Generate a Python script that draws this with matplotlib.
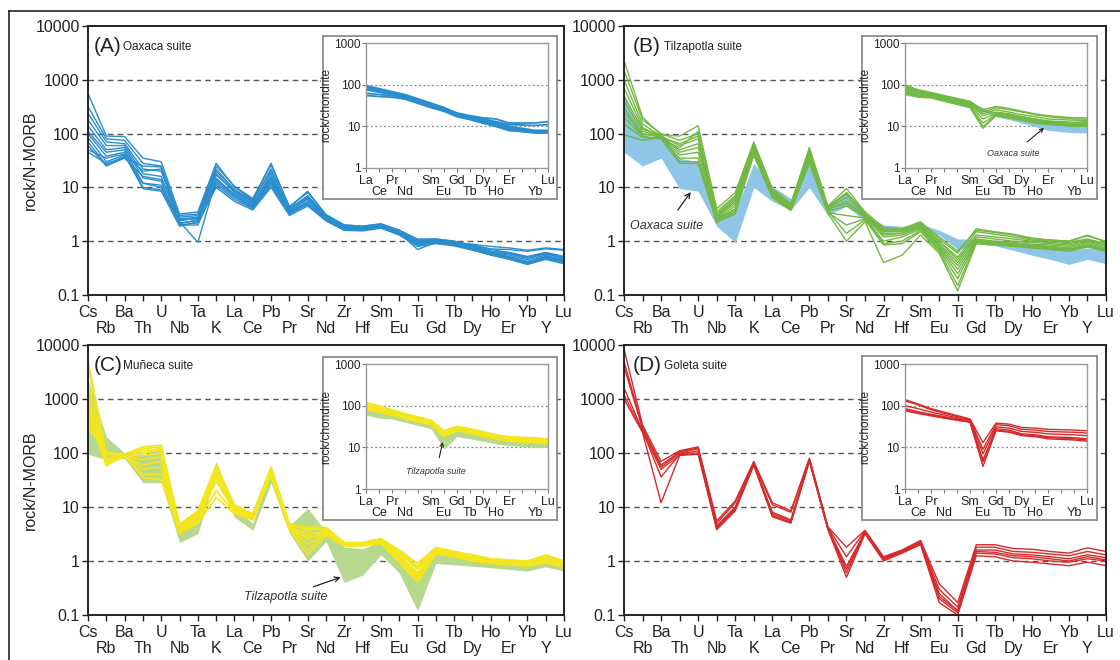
import numpy as np
import matplotlib.pyplot as plt
from matplotlib.lines import Line2D
from matplotlib.ticker import NullLocator

plt.rcParams['font.family'] = ['Liberation Sans', 'DejaVu Sans']

W, H = 1120, 660

# element order of the N-MORB spider diagram and of the REE diagram
elements = ['Cs', 'Rb', 'Ba', 'Th', 'U', 'Nb', 'Ta', 'K', 'La', 'Ce', 'Pb', 'Pr', 'Sr', 'Nd',
            'Zr', 'Hf', 'Sm', 'Eu', 'Ti', 'Gd', 'Tb', 'Dy', 'Ho', 'Er', 'Yb', 'Y', 'Lu']
ree_axis = ['La', 'Ce', 'Pr', 'Nd', 'Pm', 'Sm', 'Eu', 'Gd', 'Tb', 'Dy', 'Ho', 'Er', 'Tm', 'Yb', 'Lu']
ree = ['La', 'Ce', 'Pr', 'Nd', 'Sm', 'Eu', 'Gd', 'Tb', 'Dy', 'Ho', 'Er', 'Yb', 'Lu']

# (A) Oaxaca suite, rock/N-MORB
oaxaca_morb = [
    [560, 90, 88, 35, 30, 3.2, 3.5, 28, 10, 6.0, 28, 4.3, 8.5, 3.1, 2.0, 1.9, 2.1, 1.6, 1.1, 1.1, 1.0, 0.85, 0.72, 0.7, 0.65, 0.72, 0.68],
    [320, 80, 75, 28, 25, 2.8, 3.0, 22, 9, 5.5, 22, 4.0, 7.0, 2.9, 1.9, 1.8, 2.0, 1.5, 1.0, 1.05, 0.95, 0.8, 0.65, 0.6, 0.5, 0.6, 0.5],
    [240, 70, 65, 22, 20, 2.5, 2.6, 18, 8, 5.0, 18, 3.7, 6.0, 2.7, 1.8, 1.7, 1.9, 1.45, 0.95, 1.0, 0.9, 0.75, 0.62, 0.55, 0.45, 0.55, 0.45],
    [180, 60, 60, 18, 16, 2.2, 2.4, 15, 7, 4.5, 14, 3.5, 5.5, 2.6, 1.7, 1.7, 1.85, 1.4, 0.9, 0.95, 0.88, 0.72, 0.6, 0.52, 0.42, 0.52, 0.44],
    [140, 50, 55, 15, 13, 2.0, 2.2, 12, 6.5, 4.2, 12, 3.3, 5.0, 2.5, 1.6, 1.6, 1.8, 1.35, 0.85, 0.95, 0.85, 0.7, 0.58, 0.5, 0.4, 0.5, 0.42],
    [110, 45, 50, 12, 11, 2.0, 2.0, 11, 6, 4.0, 11, 3.2, 4.8, 2.4, 1.6, 1.55, 1.75, 1.3, 0.8, 0.9, 0.82, 0.68, 0.56, 0.48, 0.38, 0.48, 0.4],
    [100, 38, 45, 10, 9, 2.3, 0.95, 14, 7.5, 4.8, 16, 3.6, 6.5, 2.8, 1.8, 1.75, 1.9, 1.45, 0.7, 0.95, 0.9, 0.72, 0.6, 0.5, 0.4, 0.5, 0.42],
    [85, 30, 40, 9.5, 8.5, 1.9, 2.3, 10, 5.5, 3.8, 10, 3.0, 4.5, 2.4, 1.6, 1.6, 1.8, 1.35, 0.85, 0.95, 0.85, 0.7, 0.55, 0.46, 0.37, 0.46, 0.38],
    [70, 26, 38, 12, 10, 2.6, 2.8, 20, 9, 5.8, 20, 4.1, 6.8, 3.0, 1.9, 1.85, 2.0, 1.55, 1.0, 1.05, 0.95, 0.78, 0.65, 0.58, 0.48, 0.58, 0.48],
    [60, 25, 35, 16, 14, 3.0, 3.2, 25, 10.5, 6.2, 26, 4.4, 8.0, 3.1, 2.0, 1.9, 2.1, 1.6, 1.05, 1.1, 1.0, 0.82, 0.7, 0.62, 0.52, 0.62, 0.52],
    [50, 35, 42, 20, 22, 2.4, 2.7, 17, 8.5, 5.3, 15, 3.8, 6.2, 2.8, 1.8, 1.75, 1.95, 1.5, 0.95, 1.0, 0.92, 0.88, 0.8, 0.75, 0.68, 0.75, 0.7],
    [45, 28, 36, 25, 24, 2.1, 2.5, 13, 7, 4.4, 13, 3.4, 5.2, 2.5, 1.7, 1.65, 1.85, 1.4, 0.9, 0.95, 0.85, 0.72, 0.6, 0.5, 0.4, 0.52, 0.45],
]
oaxaca_chon = [
    [95, 80, 68, 58, 36, 28, 20, 17, 15, 12, 10, 8, 8],
    [90, 75, 64, 55, 34, 27, 19, 16, 14, 11.5, 9.5, 7.5, 7.5],
    [85, 72, 62, 53, 33, 26, 19, 16, 13, 11, 9, 7.5, 7.2],
    [80, 70, 60, 52, 32, 26, 18.5, 15.5, 13, 11, 8.5, 7.2, 7],
    [75, 66, 57, 50, 31, 25, 18, 15, 12.5, 10.5, 8.5, 7, 7],
    [62, 58, 54, 48, 30, 24, 17.5, 15, 12, 10, 8, 7, 7],
    [55, 52, 50, 45, 28, 23, 17, 14.5, 12, 10, 8, 7.2, 7.5],
    [88, 74, 64, 55, 35, 28, 21, 18, 16, 15, 12, 12, 13],
    [82, 70, 60, 52, 33, 26, 20, 17, 15, 13, 11, 10.5, 11],
]

# (B) Tilzapotla suite
tilzapotla_morb = [
    [2300, 200, 95, 90, 140, 4.0, 8, 70, 9.5, 5.0, 55, 4.5, 9.5, 3.5, 1.8, 1.7, 2.3, 1.1, 0.6, 1.7, 1.5, 1.35, 1.15, 1.05, 1.0, 1.3, 0.95],
    [1500, 180, 100, 75, 100, 3.5, 7, 60, 8.5, 4.8, 45, 4.2, 7.5, 3.2, 1.6, 1.6, 2.1, 1.0, 0.5, 1.5, 1.35, 1.2, 1.05, 1.0, 0.95, 1.1, 0.9],
    [1000, 150, 90, 60, 80, 3.0, 6, 55, 8, 4.5, 40, 4.0, 6.5, 3.0, 1.5, 1.5, 2.0, 0.9, 0.4, 1.2, 1.1, 1.0, 0.95, 0.9, 0.85, 1.0, 0.85],
    [700, 130, 85, 50, 65, 2.8, 5, 50, 7.5, 4.3, 35, 3.8, 5.5, 2.9, 1.4, 1.4, 1.9, 0.85, 0.35, 1.1, 1.0, 0.95, 0.88, 0.85, 0.8, 0.95, 0.8],
    [500, 120, 95, 45, 55, 2.6, 4.5, 45, 7, 4.0, 32, 3.6, 4.5, 2.8, 1.2, 1.3, 1.8, 0.8, 0.3, 1.05, 0.95, 0.9, 0.85, 0.8, 0.75, 0.9, 0.75],
    [400, 110, 90, 40, 45, 2.5, 4.0, 40, 6.5, 3.8, 30, 3.4, 3.0, 2.7, 1.0, 1.2, 1.7, 0.75, 0.25, 1.0, 0.95, 0.88, 0.82, 0.78, 0.72, 0.85, 0.72],
    [300, 100, 85, 35, 35, 2.4, 3.8, 45, 7, 4.0, 30, 3.4, 2.0, 2.6, 0.9, 1.0, 1.6, 0.7, 0.2, 1.0, 0.92, 0.85, 0.8, 0.75, 0.7, 0.82, 0.7],
    [250, 95, 95, 30, 30, 2.2, 3.5, 50, 7.5, 4.2, 35, 3.6, 1.4, 2.5, 0.85, 0.9, 1.5, 0.65, 0.15, 0.95, 0.9, 0.82, 0.76, 0.72, 0.68, 0.8, 0.68],
    [200, 90, 80, 28, 28, 2.3, 3.2, 40, 6.5, 3.7, 28, 3.3, 1.0, 2.3, 0.4, 0.55, 1.3, 0.6, 0.12, 0.9, 0.85, 0.8, 0.75, 0.7, 0.65, 0.78, 0.65],
    [150, 85, 80, 55, 110, 3.2, 6.5, 65, 9, 4.8, 50, 4.3, 8, 3.4, 1.7, 1.6, 2.2, 1.2, 0.65, 1.6, 1.45, 1.3, 1.1, 1.05, 1.0, 1.25, 1.0],
    [95, 75, 85, 65, 90, 2.9, 5.5, 55, 8, 4.6, 40, 4.0, 5.0, 3.0, 1.3, 1.4, 2.0, 1.0, 0.45, 1.3, 1.2, 1.1, 1.0, 0.95, 0.9, 1.05, 0.9],
]
tilzapotla_chon = [
    [100, 75, 65, 55, 40, 25, 30, 27, 23, 20, 18, 16, 16],
    [95, 72, 62, 52, 38, 22, 28, 25, 22, 19, 17, 15, 15],
    [85, 68, 60, 50, 36, 20, 25, 22, 19, 17, 15, 14, 14],
    [80, 65, 58, 48, 34, 18, 22, 20, 17, 15, 13.5, 12.5, 13],
    [75, 60, 55, 46, 32, 15, 20, 18, 16, 14, 12.5, 12, 12],
    [70, 55, 52, 44, 30, 12, 19, 17, 15, 13, 12, 11, 11],
    [65, 52, 50, 42, 29, 10, 18, 16, 14, 12.5, 11.5, 10.5, 10.5],
    [60, 50, 48, 40, 28, 9, 18, 16, 14, 12, 11, 10, 10],
    [90, 70, 62, 52, 37, 24, 21, 19, 17, 15, 13, 12, 12],
]

# (C) Muñeca suite
muneca_morb = [
    [5000, 100, 95, 130, 140, 4.8, 8.5, 60, 11, 7.5, 55, 4.9, 4.2, 4.2, 2.2, 2.2, 2.6, 1.6, 0.9, 1.8, 1.5, 1.3, 1.1, 1.05, 1.0, 1.3, 1.0],
    [4000, 95, 90, 120, 130, 4.5, 8, 55, 10.5, 7.2, 52, 4.7, 3.8, 4.0, 2.15, 2.15, 2.5, 1.5, 0.8, 1.7, 1.45, 1.25, 1.08, 1.02, 0.98, 1.25, 0.98],
    [2000, 80, 90, 110, 120, 4.2, 7.5, 50, 10, 7.0, 48, 4.5, 3.0, 3.8, 2.1, 2.1, 2.4, 1.4, 0.7, 1.6, 1.4, 1.2, 1.05, 1.0, 0.95, 1.2, 0.95],
    [1200, 70, 88, 90, 100, 4.0, 7, 45, 9.5, 6.8, 45, 4.4, 2.5, 3.6, 2.1, 2.1, 2.35, 1.3, 0.6, 1.55, 1.35, 1.15, 1.0, 0.95, 0.9, 1.1, 0.9],
    [900, 65, 85, 75, 85, 3.8, 6.5, 40, 9, 6.5, 42, 4.2, 2.0, 3.4, 2.0, 2.05, 2.3, 1.2, 0.55, 1.5, 1.3, 1.1, 0.98, 0.92, 0.88, 1.05, 0.88],
    [700, 62, 85, 60, 70, 3.6, 6.0, 30, 8.5, 6.2, 40, 4.0, 1.6, 3.2, 2.0, 2.0, 2.25, 1.1, 0.5, 1.45, 1.25, 1.05, 0.95, 0.9, 0.85, 1.0, 0.85],
    [500, 60, 88, 50, 55, 3.4, 5.5, 20, 8, 6.0, 38, 3.9, 1.3, 3.0, 1.95, 1.95, 2.2, 1.0, 0.45, 1.4, 1.2, 1.0, 0.92, 0.88, 0.82, 0.95, 0.8],
    [400, 75, 90, 40, 40, 3.2, 5.0, 15, 7.5, 5.8, 37, 3.7, 3.5, 3.0, 1.9, 1.9, 2.1, 0.95, 0.4, 1.35, 1.2, 1.0, 0.9, 0.85, 0.8, 0.92, 0.78],
    [300, 100, 95, 35, 32, 3.3, 5.2, 35, 8, 6.0, 40, 3.8, 2.8, 3.1, 2.0, 2.0, 2.2, 1.2, 0.55, 1.45, 1.25, 1.05, 0.95, 0.88, 0.82, 0.98, 0.8],
    [600, 58, 92, 100, 115, 4.4, 7.8, 55, 10.5, 7.3, 50, 4.6, 4.0, 3.9, 2.15, 2.1, 2.5, 1.45, 0.75, 1.65, 1.4, 1.2, 1.05, 1.0, 0.95, 1.2, 0.95],
]
muneca_chon = [
    [120, 100, 80, 65, 45, 25, 32, 28, 24, 20, 18, 17, 16],
    [115, 95, 77, 62, 43, 24, 31, 27, 23, 19.5, 17.5, 16, 15],
    [110, 90, 74, 60, 42, 23, 30, 26, 22, 19, 17, 15.5, 14.5],
    [100, 85, 70, 57, 40, 22, 29, 25, 21, 18, 16, 15, 14],
    [95, 80, 66, 55, 38, 21, 28, 24, 20, 17, 15.5, 14, 13.5],
    [90, 76, 63, 52, 37, 20, 27, 23, 19, 16.5, 15, 13.5, 13],
    [85, 72, 60, 50, 36, 19, 26, 22, 18.5, 16, 14.5, 13, 12.5],
    [80, 70, 58, 48, 35, 18, 25, 22, 18, 16, 14, 13, 12],
]

# (D) Goleta suite
goleta_morb = [
    [8500, 330, 70, 110, 130, 5.5, 13, 70, 12, 8.5, 80, 4.3, 1.8, 3.7, 1.2, 1.6, 2.4, 0.38, 0.17, 2.0, 2.0, 1.7, 1.65, 1.5, 1.4, 1.75, 1.5],
    [5000, 300, 60, 105, 125, 5.0, 12, 65, 11, 8.0, 78, 4.2, 1.2, 3.6, 1.15, 1.55, 2.3, 0.3, 0.14, 1.8, 1.8, 1.5, 1.45, 1.35, 1.25, 1.5, 1.3],
    [4000, 280, 55, 100, 120, 4.5, 10, 62, 7.5, 5.5, 75, 4.0, 0.8, 3.4, 1.1, 1.5, 2.2, 0.25, 0.12, 1.6, 1.6, 1.35, 1.3, 1.2, 1.1, 1.3, 1.15],
    [1600, 260, 36, 95, 110, 4.0, 9, 60, 7, 5.2, 72, 3.9, 0.6, 3.3, 1.05, 1.45, 2.1, 0.2, 0.11, 1.4, 1.35, 1.15, 1.1, 1.0, 0.95, 1.1, 1.0],
    [1000, 240, 12, 90, 95, 3.8, 8.5, 60, 6.6, 5.0, 70, 3.8, 0.5, 3.2, 1.0, 1.4, 2.0, 0.17, 0.1, 1.25, 1.2, 1.0, 0.95, 0.88, 0.82, 0.95, 0.82],
    [1200, 250, 50, 92, 100, 4.2, 9.5, 62, 8, 5.8, 74, 4.0, 0.7, 3.4, 1.1, 1.5, 2.2, 0.22, 0.12, 1.5, 1.45, 1.25, 1.2, 1.1, 1.0, 1.2, 1.05],
]
goleta_chon = [
    [140, 110, 85, 70, 48, 13, 38, 36, 30, 29, 27, 26, 25],
    [130, 105, 80, 66, 46, 9, 35, 33, 27, 26, 24, 23, 22],
    [100, 85, 70, 60, 44, 7, 31, 29, 24, 23, 21, 20, 19],
    [85, 72, 62, 55, 42, 5, 28, 26, 21, 20, 18, 17, 16],
    [75, 65, 57, 50, 40, 3.5, 25, 23, 19, 18, 16, 15, 14],
    [80, 68, 60, 52, 41, 4.5, 26, 24, 20, 19, 17, 16, 15],
]

BLUE = '#2a8dcd'
GREEN = '#72b843'
YELLOW = '#f3e61c'
RED = '#d62a2a'
BLUE_FILL = '#8fc6e8'
GREEN_FILL = '#b7d88f'

fig = plt.figure(figsize=(W / 100, H / 100), dpi=100)


def px_axes(l, t, r, b):
    return fig.add_axes([l / W, 1 - b / H, (r - l) / W, (b - t) / H])


def spider(rect, ylabel):
    ax = px_axes(*rect)
    ax.set_yscale('log')
    ax.set_ylim(0.1, 10000)
    ax.set_xlim(0, len(elements) - 1)
    ax.set_yticks([0.1, 1, 10, 100, 1000, 10000], ['0.1', '1', '10', '100', '1000', '10000'])
    ax.yaxis.set_minor_locator(NullLocator())
    x = np.arange(len(elements))
    ax.set_xticks(x[::2], elements[::2])
    ax.set_xticks(x[1::2], elements[1::2], minor=True)
    ax.tick_params(axis='both', which='both', direction='out', length=4, width=1, labelsize=11.5, colors='#222222')
    ax.tick_params(axis='x', which='major', pad=3.5)
    ax.tick_params(axis='x', which='minor', pad=14.5)
    ax.tick_params(axis='y', pad=2)
    for g in [1, 10, 100, 1000]:
        ax.axhline(g, color='#555555', lw=1, dashes=(4, 3), zorder=0)
    for s in ax.spines.values():
        s.set_linewidth(1.4)
        s.set_color('#222222')
    if ylabel:
        ax.set_ylabel('rock/N-MORB', fontsize=11.5, color='#222222')
        ax.yaxis.set_label_coords(-0.105, 0.5)
    return ax


def ree_inset(frame, rect):
    fr = px_axes(*frame)
    fr.set_xticks([])
    fr.set_yticks([])
    for s in fr.spines.values():
        s.set_color('#8c8c8c')
        s.set_linewidth(1.3)
    ia = px_axes(*rect)
    ia.set_yscale('log')
    ia.set_ylim(1, 1000)
    ia.set_xlim(0, len(ree_axis) - 1)
    ia.set_yticks([1, 10, 100, 1000], ['1', '10', '100', '1000'])
    ia.yaxis.set_minor_locator(NullLocator())
    top = ree[::2]
    bottom = ree[1::2]
    ia.set_xticks([ree_axis.index(e) for e in top], top)
    ia.set_xticks([ree_axis.index(e) for e in bottom] + [ree_axis.index('Pm'), ree_axis.index('Tm')],
                  bottom + ['', ''], minor=True)
    ia.tick_params(axis='both', which='both', direction='out', length=3, width=0.8, labelsize=9,
                   color='#777777', labelcolor='#222222')
    ia.tick_params(axis='y', labelsize=8.5, pad=1)
    ia.tick_params(axis='x', which='major', pad=2)
    ia.tick_params(axis='x', which='minor', pad=10)
    for g in [10, 100]:
        ia.axhline(g, color='#888888', lw=0.9, dashes=(1.5, 2), zorder=0)
    for s in ia.spines.values():
        s.set_color('#9a9a9a')
        s.set_linewidth(1)
    ia.set_ylabel('rock/chondrite', fontsize=8.5, color='#222222', labelpad=1)
    return ia


def draw_lines(ax, data, color, lw=1.0):
    for row in data:
        ax.plot(np.arange(len(row)), row, color=color, lw=lw)


def draw_ree(ax, data, color, lw=1.0):
    xr = [ree_axis.index(e) for e in ree]
    for row in data:
        ax.plot(xr, row, color=color, lw=lw)


def envelope(ax, data, color, xs=None):
    arr = np.array(data, dtype=float)
    if xs is None:
        xs = np.arange(arr.shape[1])
    ax.fill_between(xs, arr.min(axis=0), arr.max(axis=0), color=color, lw=0, zorder=1)


def title(ax, letter, name, x2):
    ax.text(0.013 if letter in 'AC' else 0.019, 0.925, '(' + letter + ')', transform=ax.transAxes,
            fontsize=15, va='center', ha='left', color='#222222')
    ax.text(x2, 0.922, name, transform=ax.transAxes, fontsize=8.5, va='center', ha='left', color='#222222')


xr_ree = [ree_axis.index(e) for e in ree]

# (A)
axA = spider((88, 26, 564, 295), True)
draw_lines(axA, oaxaca_morb, BLUE)
title(axA, 'A', 'Oaxaca suite', 0.074)
inA = ree_inset((323, 36, 557, 199), (366, 43, 548, 168))
draw_ree(inA, oaxaca_chon, BLUE, lw=1.3)

# (B)
axB = spider((624, 26, 1106, 295), False)
envelope(axB, oaxaca_morb, BLUE_FILL)
draw_lines(axB, tilzapotla_morb, GREEN)
title(axB, 'B', 'Tilzapotla suite', 0.082)
axB.annotate('Oaxaca suite', xy=(3.6, 8.2), xytext=(2.3, 1.95), fontsize=9, style='italic',
             color='#333333', ha='center', va='center',
             arrowprops=dict(arrowstyle='->', color='#222222', lw=0.9, shrinkA=6, shrinkB=0))
inB = ree_inset((862, 36, 1097, 199), (905, 43, 1087, 168))
envelope(inB, oaxaca_chon, BLUE_FILL, xs=xr_ree)
draw_ree(inB, tilzapotla_chon, GREEN)
inB.annotate('Oaxaca suite', xy=(10.7, 9.2), xytext=(8.3, 2.2), fontsize=6.5, style='italic',
             color='#333333', ha='center', va='center',
             arrowprops=dict(arrowstyle='->', color='#222222', lw=0.8, shrinkA=5, shrinkB=0))

# (C)
axC = spider((88, 345, 564, 615), True)
envelope(axC, tilzapotla_morb, GREEN_FILL)
draw_lines(axC, muneca_morb, YELLOW, lw=1.2)
title(axC, 'C', 'Muñeca suite', 0.074)
axC.annotate('Tilzapotla suite', xy=(13.8, 0.5), xytext=(10.8, 0.22), fontsize=9, style='italic',
             color='#333333', ha='center', va='center',
             arrowprops=dict(arrowstyle='->', color='#222222', lw=0.9, shrinkA=2, shrinkB=0))
inC = ree_inset((323, 357, 557, 520), (366, 364, 548, 489))
envelope(inC, tilzapotla_chon, GREEN_FILL, xs=xr_ree)
draw_ree(inC, muneca_chon, YELLOW, lw=1.1)
inC.annotate('Tilzapotla suite', xy=(5.9, 13.5), xytext=(5.4, 2.6), fontsize=6.5, style='italic',
             color='#333333', ha='center', va='center',
             arrowprops=dict(arrowstyle='->', color='#222222', lw=0.8, shrinkA=5, shrinkB=0))

# (D)
axD = spider((624, 345, 1106, 615), False)
draw_lines(axD, goleta_morb, RED)
title(axD, 'D', 'Goleta suite', 0.082)
inD = ree_inset((862, 356, 1097, 520), (905, 364, 1087, 489))
draw_ree(inD, goleta_chon, RED)

# frame lines of the original figure (top and left)
fig.add_artist(Line2D([9 / W, 1], [1 - 11 / H, 1 - 11 / H], color='#222222', lw=1.2))
fig.add_artist(Line2D([9 / W, 9 / W], [0, 1 - 11 / H], color='#222222', lw=1.2))

fig.savefig('out.png', dpi=100)
